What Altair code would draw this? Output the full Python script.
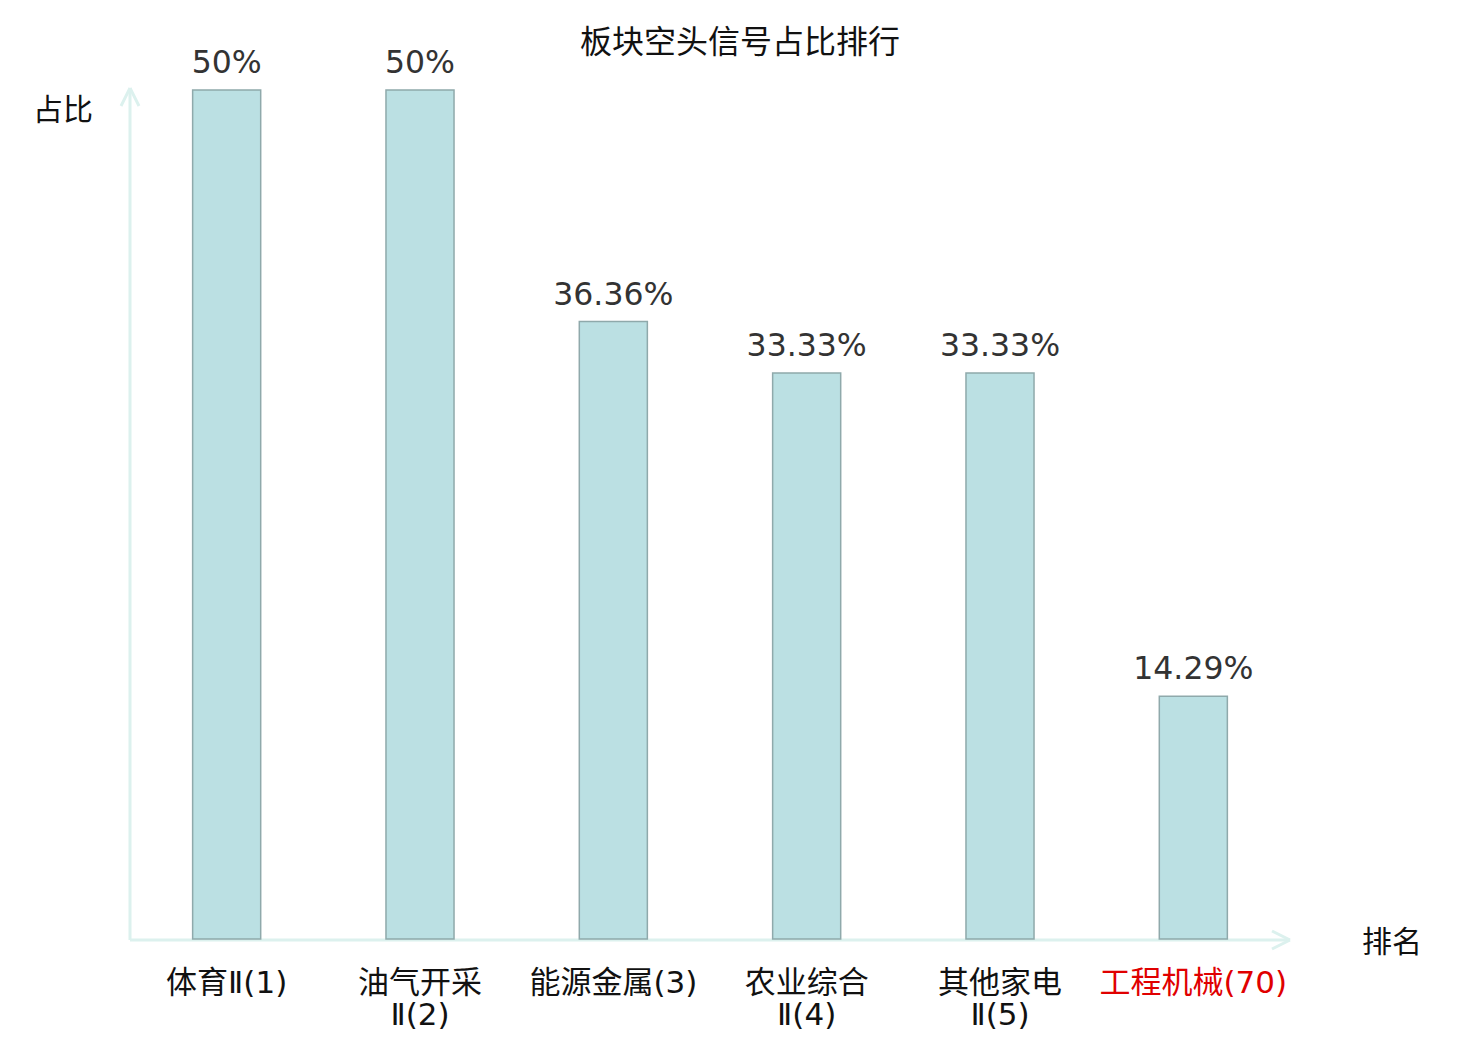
import altair as alt
import pandas as pd

categories = ["体育Ⅱ(1)", "油气开采\nⅡ(2)", "能源金属(3)", "农业综合\nⅡ(4)", "其他家电\nⅡ(5)", "工程机械(70)"]
values = [50, 50, 36.36, 33.33, 33.33, 14.29]
value_labels = ["50%", "50%", "36.36%", "33.33%", "33.33%", "14.29%"]
label_colors = ["#111111", "#111111", "#111111", "#111111", "#111111", "#e00000"]

df = pd.DataFrame({"cat": categories, "v": values, "lab": value_labels, "col": label_colors})

W, H = 1160, 849
AX = "#dcf1ee"
LBLFONT = "DejaVu Sans, Noto Sans CJK SC"

xs = alt.X("cat:N", sort=categories, axis=None,
           scale=alt.Scale(paddingInner=0.648, paddingOuter=0.324))
ys = alt.Y("v:Q", axis=None, scale=alt.Scale(domain=[0, 50], nice=False, zero=True))

bars = alt.Chart(df).mark_bar(fill="#bbe0e3", stroke="#8fa9ab", strokeWidth=1.5).encode(x=xs, y=ys)

vals = alt.Chart(df).mark_text(baseline="bottom", dy=-10, fontSize=31.5, font="DejaVu Sans",
                               color="#333333").encode(x=xs, y=ys, text="lab:N")

xlabs = alt.Chart(df).mark_text(baseline="top", lineBreak="\n", fontSize=31, lineHeight=32,
                                font=LBLFONT).encode(
    x=xs, y=alt.value(H + 30), text="cat:N",
    color=alt.Color("col:N", scale=None))

# axis lines with arrows
axline = pd.DataFrame({"k": [0]})
yaxis = alt.Chart(axline).mark_rule(color=AX, strokeWidth=3).encode(
    x=alt.value(0), y=alt.value(-2), y2=alt.value(H + 1))
xaxis = alt.Chart(axline).mark_rule(color=AX, strokeWidth=3).encode(
    x=alt.value(0), x2=alt.value(W), y=alt.value(H + 1))
ya1 = alt.Chart(axline).mark_rule(color=AX, strokeWidth=3).encode(
    x=alt.value(0), x2=alt.value(-9), y=alt.value(-2), y2=alt.value(16))
ya2 = alt.Chart(axline).mark_rule(color=AX, strokeWidth=3).encode(
    x=alt.value(0), x2=alt.value(9), y=alt.value(-2), y2=alt.value(16))
xa1 = alt.Chart(axline).mark_rule(color=AX, strokeWidth=3).encode(
    x=alt.value(W), x2=alt.value(W - 18), y=alt.value(H + 1), y2=alt.value(H - 8))
xa2 = alt.Chart(axline).mark_rule(color=AX, strokeWidth=3).encode(
    x=alt.value(W), x2=alt.value(W - 18), y=alt.value(H + 1), y2=alt.value(H + 10))

title = alt.Chart(axline).mark_text(fontSize=32, font="Noto Sans CJK SC", color="#111111").encode(
    x=alt.value(610), y=alt.value(-47), text=alt.value("板块空头信号占比排行"))
ytitle = alt.Chart(axline).mark_text(fontSize=30, font="Noto Sans CJK SC", color="#111111").encode(
    x=alt.value(-67), y=alt.value(21), text=alt.value("占比"))
xtitle = alt.Chart(axline).mark_text(fontSize=30, font="Noto Sans CJK SC", color="#111111").encode(
    x=alt.value(1262), y=alt.value(853), text=alt.value("排名"))

chart = alt.layer(yaxis, xaxis, ya1, ya2, xa1, xa2, bars, vals, xlabs, title, ytitle, xtitle).properties(
    width=W, height=H,
    background="white",
    autosize=alt.AutoSizeParams(type="none"),
    padding={"left": 122, "top": 82, "right": 182, "bottom": 95},
).configure_view(strokeWidth=0, stroke=None)

chart.save("out.html", embed_options={"renderer": "svg", "actions": False})
